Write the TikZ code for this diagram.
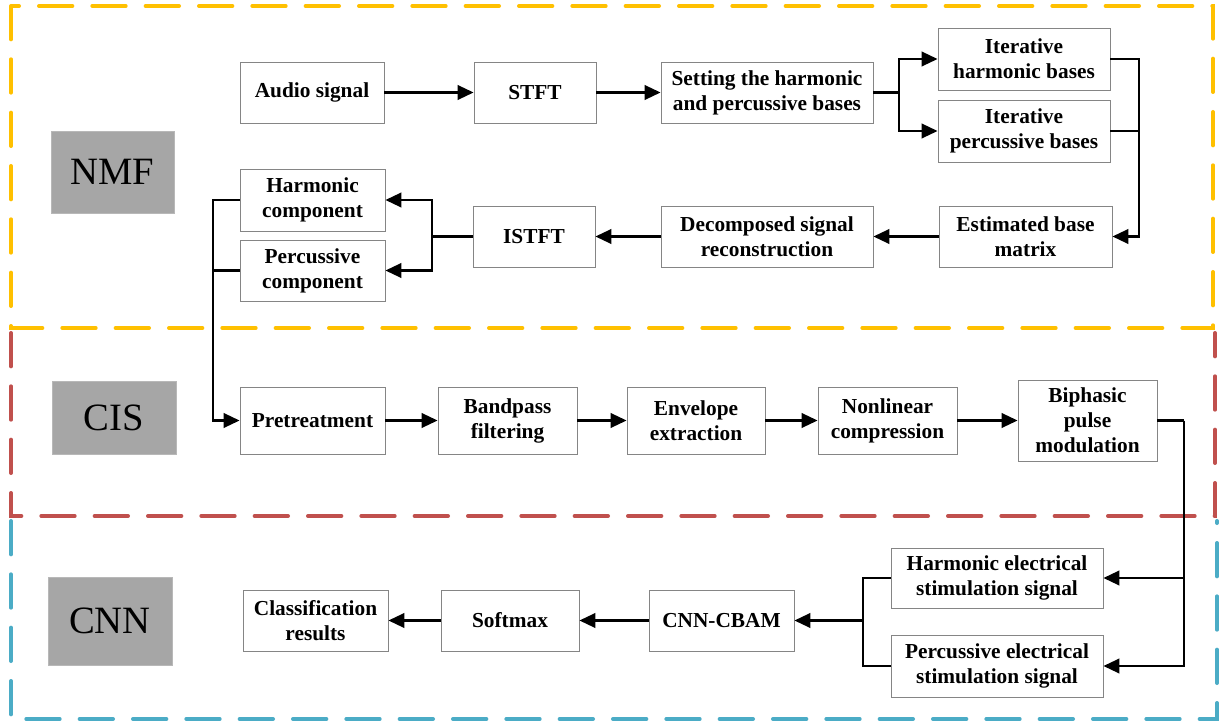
\documentclass[tikz,border=0pt]{standalone}
\usepackage{fontspec}
\setmainfont{Liberation Serif}
\usetikzlibrary{arrows.meta}
\definecolor{ygold}{HTML}{FFC000}
\definecolor{rred}{HTML}{C0504D}
\definecolor{bblue}{HTML}{4BACC6}
\definecolor{boxgray}{HTML}{858585}
\definecolor{labgray}{HTML}{A6A6A6}
\begin{document}
\begin{tikzpicture}[x=0.75pt,y=-0.75pt,
  box/.style 2 args={draw=boxgray, line width=0.7pt, fill=white, align=center, inner sep=0pt,
    minimum width=#1*0.75pt, minimum height=#2*0.75pt,
    font=\bfseries\fontsize{16}{18.75}\selectfont},
  lab/.style 2 args={fill=labgray, draw=labgray!80!white, line width=0.5pt, inner sep=0pt,
    minimum width=#1*0.75pt, minimum height=#2*0.75pt,
    font=\fontsize{29}{34}\selectfont},
  conn/.style={draw=black, line width=1.55pt},
  arr/.style={conn, -{Triangle[length=12pt,width=11pt]}},
  zone/.style={line width=3pt, line cap=round, dash pattern=on 25pt off 15pt}
]
\useasboundingbox[fill=white] (0,0) rectangle (1220,723);

% zones (shared edges drawn once, by the upper zone's lower edge)
\draw[zone, draw=bblue] (11,521) -- (11,719) -- (1217,719) -- (1217,521);
\draw[zone, draw=rred] (11,333) -- (11,516) -- (1215,516) -- (1215,333);
\draw[zone, draw=ygold] (11,6) rectangle (1213,328);

% labels
\node[lab={123}{82}] (nmf) at (112.5,172) {NMF};
\node[lab={124}{73}] (cis) at (114,417.5) {CIS};
\node[lab={124}{88}] (cnn) at (110,621) {CNN};

% NMF boxes
\node[box={144}{61}] (audio) at (312,92.5) {Audio signal};
\node[box={122}{61}] (stft) at (535,92.5) {STFT};
\node[box={212}{61}] (setting) at (767,92.5) {Setting the harmonic\\and percussive bases};
\node[box={172}{62}] (iharm) at (1024,59) {Iterative\\harmonic bases};
\node[box={172}{62}] (iperc) at (1024,131) {Iterative\\percussive bases};
\node[box={173}{61}] (est) at (1025.5,236.5) {Estimated base\\matrix};
\node[box={212}{61}] (decomp) at (767,236.5) {Decomposed signal\\reconstruction};
\node[box={122}{61}] (istft) at (534,236.5) {ISTFT};
\node[box={145}{62}] (hcomp) at (312.5,200) {Harmonic\\component};
\node[box={145}{61}] (pcomp) at (312.5,270.5) {Percussive\\component};

% CIS boxes
\node[box={145}{67}] (pre) at (312.5,420.5) {Pretreatment};
\node[box={139}{67}] (band) at (507.5,420.5) {Bandpass\\filtering};
\node[box={138}{67}] (env) at (696,420.5) {Envelope\\extraction};
\node[box={139}{67}] (nonlin) at (887.5,420.5) {Nonlinear\\compression};
\node[box={139}{81}] (biph) at (1087.5,420.5) {Biphasic\\pulse\\modulation};

% CNN boxes
\node[box={212}{60}] (hes) at (997,578) {Harmonic electrical\\stimulation signal};
\node[box={212}{62}] (pes) at (997,666) {Percussive electrical\\stimulation signal};
\node[box={145}{61}] (cbam) at (721.5,620.5) {CNN-CBAM};
\node[box={138}{61}] (soft) at (510,620.5) {Softmax};
\node[box={145}{61}] (cls) at (315.5,620.5) {Classification\\results};

% fork coordinates
\coordinate (f1) at (899,0);
\coordinate (f2) at (1139,0);
\coordinate (f3) at (432,0);
\coordinate (f4) at (213,0);
\coordinate (f5) at (1184,0);
\coordinate (f6) at (863,0);

% NMF connectors
\draw[arr] (audio) -- (stft);
\draw[arr] (stft) -- (setting);
\draw[conn] (setting.east) -- (f1 |- setting.east);
\draw[arr] (f1 |- setting.east) |- (iharm.west);
\draw[arr] (f1 |- setting.east) |- (iperc.west);
\draw[conn] (iharm.east) -| (f2 |- iperc.east);
\draw[arr] (iperc.east) -| (f2 |- est.east) -- (est.east);
\draw[arr] (est) -- (decomp);
\draw[arr] (decomp) -- (istft);
\draw[conn] (istft.west) -- (f3 |- istft.west);
\draw[arr] (f3 |- istft.west) |- (hcomp.east);
\draw[arr] (f3 |- istft.west) |- (pcomp.east);
\draw[conn] (hcomp.west) -| (f4 |- pcomp.west);
\draw[arr] (pcomp.west) -| (f4 |- pre.west) -- (pre.west);

% CIS connectors
\draw[arr] (pre) -- (band);
\draw[arr] (band) -- (env);
\draw[arr] (env) -- (nonlin);
\draw[arr] (nonlin) -- (biph);
\draw[conn] (biph.east) -- (f5 |- biph.east);
\draw[arr] (f5 |- biph.east) |- (hes.east);
\draw[arr] (f5 |- biph.east) |- (pes.east);

% CNN connectors
\draw[conn] (hes.west) -| (f6 |- pes.west) -- (pes.west);
\draw[arr] (f6 |- cbam.east) -- (cbam.east);
\draw[arr] (cbam) -- (soft);
\draw[arr] (soft) -- (cls);
\end{tikzpicture}
\end{document}
